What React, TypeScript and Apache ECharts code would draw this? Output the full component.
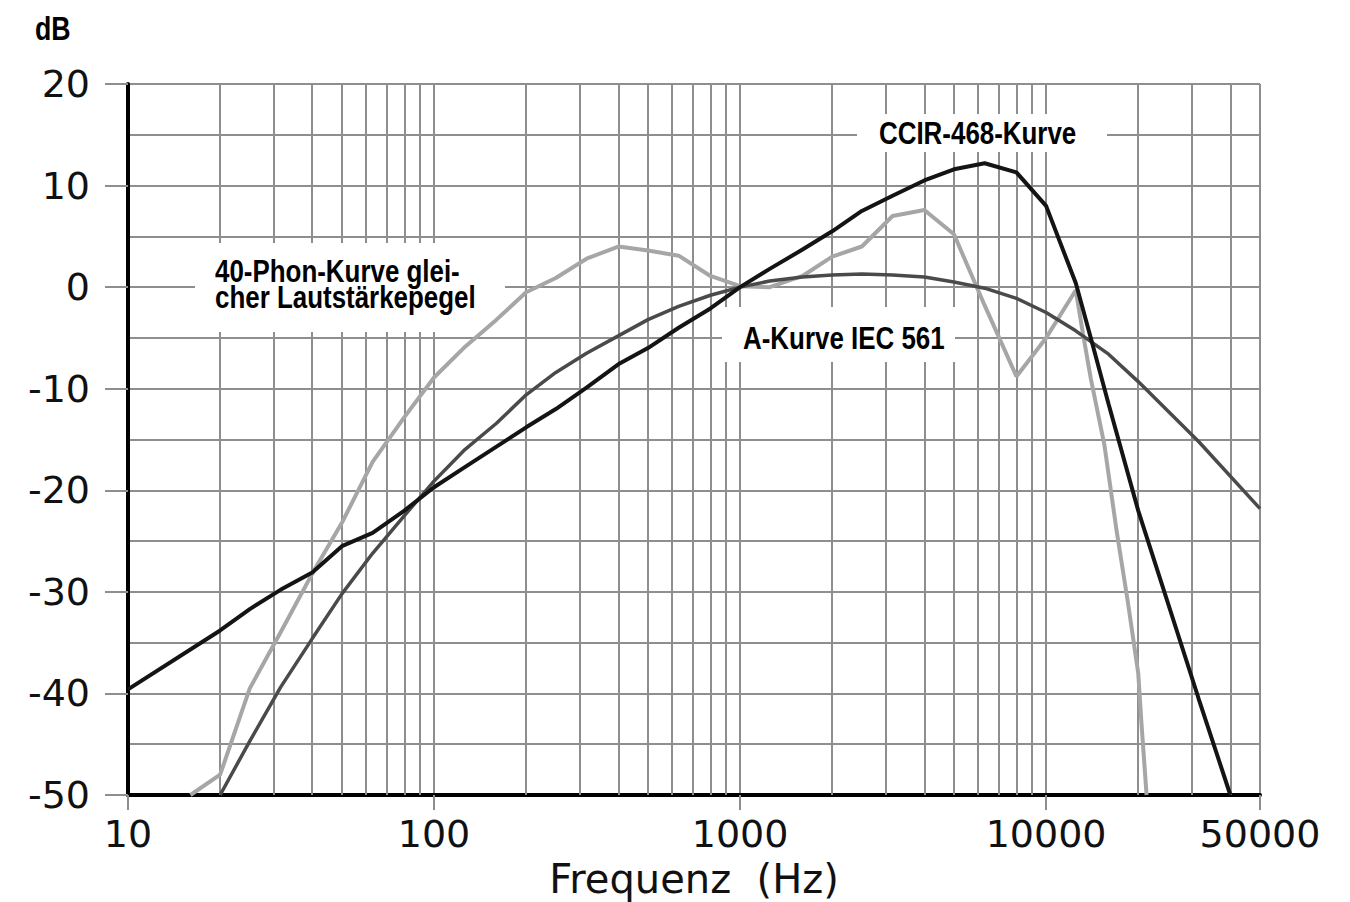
import React, { useEffect, useRef } from "react";
import * as echarts from "echarts";

// ---- data ----
const CCIR_FREQ = [10, 20, 25, 31.5, 40, 50, 63, 80, 100, 125, 160, 200, 250, 315, 400, 500, 630, 800, 1000, 1250, 1600, 2000, 2500, 3150, 4000, 5000, 6300, 8000, 10000, 12500, 14000, 16000, 20000, 31500, 40000];
const CCIR_DB = [-39.6, -33.8, -31.7, -29.8, -28.1, -25.5, -24.2, -22.0, -19.7, -17.8, -15.7, -13.8, -12.0, -9.9, -7.6, -6.0, -4.0, -2.1, 0, 1.8, 3.7, 5.5, 7.5, 9.0, 10.5, 11.6, 12.2, 11.3, 8.0, 0.4, -5.0, -11.5, -22.0, -40.5, -50];

const A_FREQ = [20, 25, 31.5, 40, 50, 63, 80, 100, 125, 160, 200, 250, 315, 400, 500, 630, 800, 1000, 1250, 1600, 2000, 2500, 3150, 4000, 5000, 6300, 8000, 10000, 12500, 16000, 20000, 31500, 50000];
const A_DB = [-50, -44.7, -39.4, -34.6, -30.2, -26.2, -22.5, -19.1, -16.1, -13.4, -10.6, -8.4, -6.5, -4.8, -3.2, -1.9, -0.8, 0, 0.6, 1.0, 1.2, 1.3, 1.2, 1.0, 0.5, -0.1, -1.1, -2.5, -4.3, -6.6, -9.3, -15.2, -21.8];

const PHON_FREQ = [16, 20, 25, 31.5, 40, 50, 63, 80, 100, 125, 160, 200, 250, 315, 400, 500, 630, 800, 1000, 1250, 1600, 2000, 2500, 3150, 4000, 5000, 6300, 8000, 10000, 12500, 13200, 14000, 15500, 17000, 18500, 20000, 20500, 21300];
const PHON_DB = [-50, -48, -39.5, -34.0, -28.2, -23.2, -17.2, -12.8, -8.9, -6.0, -3.2, -0.5, 0.9, 2.8, 4.0, 3.6, 3.1, 1.1, 0.1, 0, 1.1, 3.0, 4.0, 7.0, 7.6, 5.2, -1.8, -8.8, -5.0, -0.3, -4.6, -9.0, -15.5, -24.0, -31.0, -38.0, -43.0, -50];

// minor (sub-decade) vertical grid lines
const MINOR_FREQS = [
  20, 30, 40, 50, 60, 70, 80, 90,
  200, 300, 400, 500, 600, 700, 800, 900,
  2000, 3000, 4000, 5000, 6000, 7000, 8000, 9000,
  20000, 30000, 40000,
];

const X_MIN = 10;
const X_MAX = 50000;
const Y_MIN = -50;
const Y_MAX = 20;
const Y_STEP = 10;

const LABEL_PHON = "40-Phon-Kurve glei-\ncher Lautstärkepegel";
const LABEL_CCIR = "CCIR-468-Kurve";
const LABEL_A = "A-Kurve IEC 561";
const Y_NAME = "dB";
const X_NAME = "Frequenz  (Hz)";

const pairs = (xs: number[], ys: number[]) => xs.map((x, i) => [x, ys[i]]);

const GRID_COLOR = "#8e8e8e";
const WIDE_FONT = "'DejaVu Sans', sans-serif";
const NARROW_FONT = "'Liberation Sans', Arial, sans-serif";
const NARROW_SCALE = 0.81;

export default function App() {
  const ref = useRef<HTMLDivElement>(null);

  useEffect(() => {
    if (!ref.current) return;
    const chart = echarts.init(ref.current, undefined, { renderer: "svg" });
    const labelStyle = (text: string, size: number, lh?: number) => ({
      text,
      font: `bold ${size}px ${NARROW_FONT}`,
      lineHeight: lh,
      fill: "#000",
      align: "left",
      verticalAlign: "top",
    });
    const option: any = {
      animation: false,
      backgroundColor: "#ffffff",
      grid: {
        left: 128,
        top: 84,
        width: 1132,
        height: 711,
        containLabel: false,
        outerBoundsMode: "none",
      },
      xAxis: {
        type: "log",
        logBase: 10,
        min: X_MIN,
        max: X_MAX,
        name: X_NAME,
        nameLocation: "middle",
        nameGap: 48,
        nameTextStyle: { fontFamily: WIDE_FONT, fontSize: 40, color: "#111", lineHeight: 42 },
        axisLine: { show: true, onZero: false, lineStyle: { color: "#000", width: 4 } },
        axisTick: { show: true, length: 15, lineStyle: { color: GRID_COLOR, width: 2 } },
        axisLabel: {
          fontFamily: WIDE_FONT,
          fontSize: 38,
          color: "#111",
          margin: 20,
          formatter: (v: number) => String(Math.round(v)),
        },
        splitLine: { show: true, lineStyle: { color: GRID_COLOR, width: 2 } },
      },
      yAxis: {
        type: "value",
        min: Y_MIN,
        max: Y_MAX,
        interval: Y_STEP,
        axisLine: { show: true, lineStyle: { color: "#000", width: 4 } },
        axisTick: { show: true, length: 23, lineStyle: { color: GRID_COLOR, width: 2 } },
        axisLabel: { fontFamily: WIDE_FONT, fontSize: 38, color: "#111", margin: 38 },
        splitLine: { show: true, lineStyle: { color: GRID_COLOR, width: 2 } },
        minorTick: { show: false, splitNumber: 2 },
        minorSplitLine: { show: true, lineStyle: { color: GRID_COLOR, width: 2 } },
      },
      series: [
        {
          name: "grid",
          type: "line",
          data: [],
          z: 1,
          silent: true,
          markLine: {
            z: 1,
            silent: true,
            symbol: ["none", "none"],
            label: { show: false },
            lineStyle: { color: GRID_COLOR, width: 2, type: "solid" },
            emphasis: { disabled: true },
            data: MINOR_FREQS.map((f) => ({ xAxis: f })),
          },
        },
        {
          name: "40-Phon",
          type: "line",
          data: pairs(PHON_FREQ, PHON_DB),
          symbol: "none",
          z: 8,
          lineStyle: { color: "#a6a6a6", width: 4 },
        },
        {
          name: "A-Kurve",
          type: "line",
          data: pairs(A_FREQ, A_DB),
          symbol: "none",
          z: 9,
          lineStyle: { color: "#4a4a4a", width: 3.5 },
        },
        {
          name: "CCIR",
          type: "line",
          data: pairs(CCIR_FREQ, CCIR_DB),
          symbol: "none",
          z: 10,
          lineStyle: { color: "#141414", width: 4 },
        },
      ],
      graphic: [
        { type: "rect", z: 6, shape: { x: 195, y: 243, width: 310, height: 89 }, style: { fill: "#fff" } },
        { type: "rect", z: 6, shape: { x: 857, y: 114, width: 250, height: 38 }, style: { fill: "#fff" } },
        { type: "rect", z: 6, shape: { x: 722, y: 307, width: 233, height: 55 }, style: { fill: "#fff" } },
        { type: "text", z: 7, x: 215, y: 257, scaleX: NARROW_SCALE, style: labelStyle(LABEL_PHON, 32, 27) },
        { type: "text", z: 7, x: 879, y: 117, scaleX: NARROW_SCALE, style: labelStyle(LABEL_CCIR, 32) },
        { type: "text", z: 7, x: 743, y: 322, scaleX: NARROW_SCALE, style: labelStyle(LABEL_A, 32) },
        { type: "text", z: 7, x: 35, y: 12, scaleX: NARROW_SCALE, style: labelStyle(Y_NAME, 33) },
      ],
    };
    chart.setOption(option);
    return () => chart.dispose();
  }, []);

  return (
    <div
      ref={ref}
      style={{ position: "fixed", left: 0, top: 0, width: 1350, height: 902, background: "#fff" }}
    />
  );
}
